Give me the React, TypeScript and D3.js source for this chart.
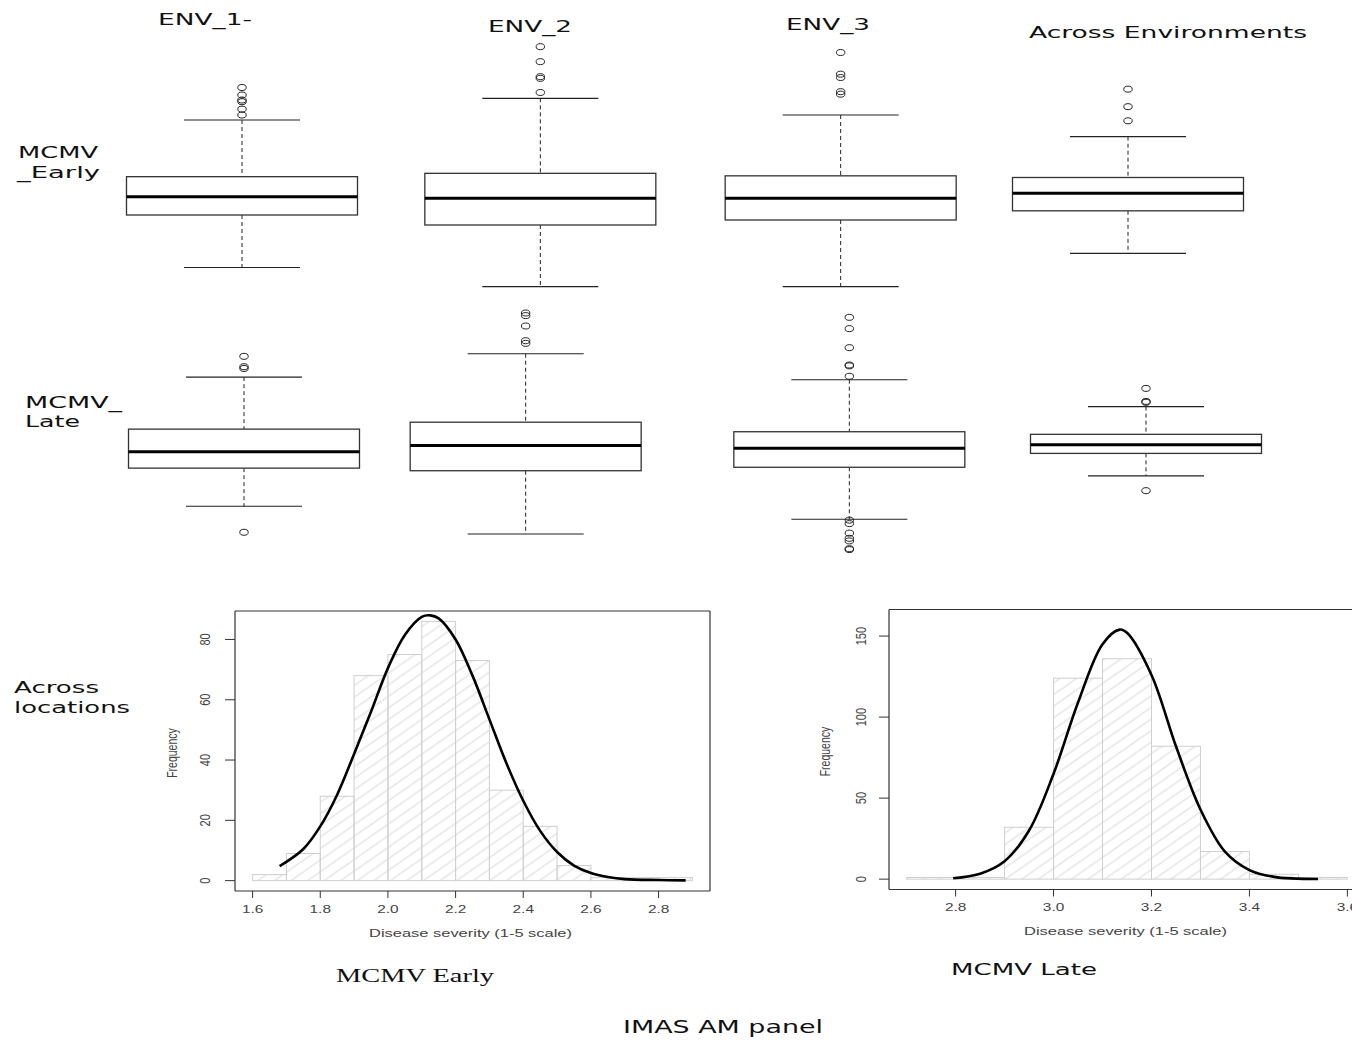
import React from "react";
import * as d3 from "d3";

// ---------------- DATA ----------------
const boxCategories = ["ENV_1", "ENV_2", "ENV_3", "Across Environments"];

// MCMV_Early (disease severity, 1-5 scale)
const earlyLow = [1.27, 1.04, 1.04, 1.44];
const earlyQ1 = [1.9, 1.78, 1.84, 1.95];
const earlyMedian = [2.12, 2.1, 2.1, 2.16];
const earlyQ3 = [2.36, 2.4, 2.37, 2.35];
const earlyHigh = [3.04, 3.3, 3.1, 2.84];
const earlyOutliers = [
  [3.1, 3.17, 3.26, 3.28, 3.34, 3.43],
  [3.37, 3.54, 3.56, 3.74, 3.92],
  [3.35, 3.38, 3.55, 3.59, 3.85],
  [3.03, 3.2, 3.41],
];

// MCMV_Late
const lateLow = [2.62, 2.3, 2.47, 2.97];
const lateQ1 = [3.06, 3.03, 3.07, 3.23];
const lateMedian = [3.25, 3.32, 3.29, 3.33];
const lateQ3 = [3.51, 3.59, 3.48, 3.45];
const lateHigh = [4.11, 4.38, 4.08, 3.77];
const lateOutliers = [
  [2.32, 4.21, 4.23, 4.35],
  [4.5, 4.53, 4.7, 4.82, 4.85],
  [2.12, 2.13, 2.22, 2.25, 2.31, 2.42, 2.46, 4.12, 4.24, 4.25, 4.45, 4.67, 4.8],
  [2.8, 3.82, 3.83, 3.98],
];

// Histograms across locations
const earlyBreaks = [1.6, 1.7, 1.8, 1.9, 2.0, 2.1, 2.2, 2.3, 2.4, 2.5, 2.6, 2.7, 2.8, 2.9];
const earlyCounts = [2, 9, 28, 68, 75, 86, 73, 30, 18, 5, 1, 1, 1];
const earlyCurveX = [1.68, 1.75, 1.8, 1.85, 1.9, 1.95, 2.0, 2.05, 2.1, 2.125, 2.15, 2.2, 2.25, 2.3, 2.35, 2.4, 2.45, 2.5, 2.55, 2.6, 2.65, 2.7, 2.8, 2.88];
const earlyCurveY = [4.8, 10.5, 18, 28.5, 42, 56, 70.5, 81.5, 87.5, 88, 87, 80, 68, 53.5, 39, 26.5, 16.5, 9.5, 5, 2.5, 1.2, 0.5, 0.2, 0.1];
const earlyXTicks = [1.6, 1.8, 2.0, 2.2, 2.4, 2.6, 2.8];
const earlyYTicks = [0, 20, 40, 60, 80];

const lateBreaks = [2.7, 2.8, 2.9, 3.0, 3.1, 3.2, 3.3, 3.4, 3.5, 3.6];
const lateCounts = [1, 1, 32, 124, 136, 82, 17, 3, 1];
const lateCurveX = [2.795, 2.85, 2.9, 2.95, 3.0, 3.05, 3.1, 3.135, 3.15, 3.2, 3.25, 3.3, 3.35, 3.4, 3.45, 3.54];
const lateCurveY = [0.5, 3.3, 11, 30, 65, 109, 145, 154, 152, 126, 82, 43, 17, 5.6, 1.4, 0.1];
const lateXTicks = [2.8, 3.0, 3.2, 3.4, 3.6];
const lateYTicks = [0, 50, 100, 150];

// ---------------- COMPONENTS ----------------
type BoxProps = {
  low: number[]; q1: number[]; med: number[]; q3: number[]; high: number[]; outliers: number[][];
  x: d3.ScalePoint<string>; nudge: number[]; y: d3.ScaleLinear<number, number>;
};

function BoxRow({ low, q1, med, q3, high, outliers, x, nudge, y }: BoxProps) {
  const boxW = 231;
  const capW = 116;
  return (
    <g>
      {boxCategories.map((c, i) => {
        const cx = (x(c) as number) + nudge[i];
        return (
          <g key={c}>
            <line x1={cx} x2={cx} y1={y(high[i])} y2={y(q3[i])} stroke="#222" strokeWidth={1} strokeDasharray="4,3" />
            <line x1={cx} x2={cx} y1={y(q1[i])} y2={y(low[i])} stroke="#222" strokeWidth={1} strokeDasharray="4,3" />
            <line x1={cx - capW / 2} x2={cx + capW / 2} y1={y(high[i])} y2={y(high[i])} stroke="#222" strokeWidth={1.2} />
            <line x1={cx - capW / 2} x2={cx + capW / 2} y1={y(low[i])} y2={y(low[i])} stroke="#222" strokeWidth={1.2} />
            <rect x={cx - boxW / 2} y={y(q3[i])} width={boxW} height={y(q1[i]) - y(q3[i])} fill="#fff" stroke="#333" strokeWidth={1.3} />
            <line x1={cx - boxW / 2} x2={cx + boxW / 2} y1={y(med[i])} y2={y(med[i])} stroke="#000" strokeWidth={3} />
            {outliers[i].map((v, j) => (
              <ellipse key={j} cx={cx} cy={y(v)} rx={4.2} ry={3} fill="none" stroke="#222" strokeWidth={1} />
            ))}
          </g>
        );
      })}
    </g>
  );
}

type HistProps = {
  id: string; breaks: number[]; counts: number[]; cx: number[]; cy: number[];
  xTicks: number[]; yTicks: number[];
  xs: d3.ScaleLinear<number, number>; ys: d3.ScaleLinear<number, number>;
  frame: [number, number, number, number];
  yLabelX: number; freqX: number; titleX: number; titleY: number; tickY: number;
};

const axisFont = "'Liberation Sans', Arial, sans-serif";

function Hist({ id, breaks, counts, cx, cy, xTicks, yTicks, xs, ys, frame, yLabelX, freqX, titleX, titleY, tickY }: HistProps) {
  const [fx0, fy0, fx1, fy1] = frame;
  const line = d3
    .line<number>()
    .x((_, i) => xs(cx[i]))
    .y((d) => ys(d))
    .curve(d3.curveCatmullRom.alpha(0.5));
  const sx = 1.4;
  return (
    <g>
      <defs>
        <pattern id={id} patternUnits="userSpaceOnUse" width={40} height={9.5} patternTransform="rotate(-35)">
          <line x1={0} x2={40} y1={4.75} y2={4.75} stroke="#d4d4d4" strokeWidth={0.9} />
        </pattern>
      </defs>
      {counts.map((c, i) => (
        <rect key={i} x={xs(breaks[i])} y={ys(c)} width={xs(breaks[i + 1]) - xs(breaks[i])} height={ys(0) - ys(c)}
          fill={`url(#${id})`} stroke="#cfcfcf" strokeWidth={1} />
      ))}
      <path d={line(cy) || ""} fill="none" stroke="#000" strokeWidth={2.6} />
      <line x1={fx0} x2={fx1} y1={fy0} y2={fy0} stroke="#333" strokeWidth={1.2} />
      <line x1={fx0} x2={fx1} y1={fy1} y2={fy1} stroke="#333" strokeWidth={1.2} />
      <line x1={fx0} x2={fx0} y1={fy0} y2={fy1} stroke="#333" strokeWidth={1.2} />
      <line x1={fx1} x2={fx1} y1={fy0} y2={fy1} stroke="#333" strokeWidth={1.2} />
      {xTicks.map((t) => (
        <g key={t}>
          <line x1={xs(t)} x2={xs(t)} y1={fy1} y2={fy1 + 7} stroke="#333" strokeWidth={1} />
          <g transform={`translate(${xs(t)},${tickY}) scale(${sx},1)`}>
            <text textAnchor="middle" style={{ fontFamily: axisFont }} fontSize={11} fill="#444">{t.toFixed(1)}</text>
          </g>
        </g>
      ))}
      {yTicks.map((t) => (
        <g key={t}>
          <line x1={fx0 - 10} x2={fx0} y1={ys(t)} y2={ys(t)} stroke="#333" strokeWidth={1} />
          <g transform={`translate(${yLabelX},${ys(t)}) scale(${sx},1) rotate(-90)`}>
            <text textAnchor="middle" dy="0.35em" style={{ fontFamily: axisFont }} fontSize={11} fill="#444">{t}</text>
          </g>
        </g>
      ))}
      <g transform={`translate(${freqX},${(fy0 + fy1) / 2 + 2}) scale(${sx},1) rotate(-90)`}>
        <text textAnchor="middle" dy="0.35em" style={{ fontFamily: axisFont }} fontSize={10.5} fill="#444">Frequency</text>
      </g>
      <text x={titleX} y={titleY} textLength={203} lengthAdjust="spacingAndGlyphs"
        style={{ fontFamily: axisFont }} fontSize={11.5} fill="#444">Disease severity (1-5 scale)</text>
    </g>
  );
}

function Label({ x, y, w, size, family, children, fill = "#111" }: any) {
  return (
    <text x={x} y={y} textLength={w} lengthAdjust="spacingAndGlyphs" style={{ fontFamily: family }} fontSize={size} fill={fill}>
      {children}
    </text>
  );
}

export default function App() {
  const W = 1352;
  const H = 1040;
  const sans = "'DejaVu Sans', Verdana, sans-serif";
  const serif = "'Liberation Serif', 'DejaVu Serif', serif";

  // box plot scales
  const x1 = d3.scalePoint<string>().domain(boxCategories).range([242, 1128]);
  const x2 = d3.scalePoint<string>().domain(boxCategories).range([244, 1146]);
  const nudge1 = [0, 3, 8, 0];
  const nudge2 = [0, -19, 4, 0];
  const yEarly = d3.scaleLinear().domain([1, 4]).range([290, 40]);
  const yLate = d3.scaleLinear().domain([2, 5]).range([560, 300]);

  // histogram scales
  const xsE = d3.scaleLinear().domain([1.548, 2.952]).range([235, 710]);
  const ysE = d3.scaleLinear().domain([-3.44, 89.44]).range([891, 611]);
  const xsL = d3.scaleLinear().domain([2.664, 3.636]).range([889, 1365]);
  const ysL = d3.scaleLinear().domain([-6.4, 166.4]).range([889.5, 609.5]);

  return (
    <svg width={W} height={H} style={{ position: "absolute", left: 0, top: 0, background: "#fff" }}>
      <rect x={0} y={0} width={W} height={H} fill="#fff" />
      {/* column titles */}
      <Label x={158} y={25} w={94} size={16.5} family={sans}>ENV_1-</Label>
      <Label x={488} y={32} w={84} size={16.5} family={sans}>ENV_2</Label>
      <Label x={786} y={29.5} w={84} size={16.5} family={sans}>ENV_3</Label>
      <Label x={1029} y={37.5} w={278} size={15.5} family={sans}>Across Environments</Label>

      {/* row titles */}
      <Label x={18} y={158} w={80} size={16.5} family={sans}>MCMV</Label>
      <Label x={17} y={178} w={83} size={16.5} family={sans}>_Early</Label>
      <Label x={25} y={407.5} w={97} size={16.5} family={sans}>MCMV_</Label>
      <Label x={25} y={427} w={55} size={16.5} family={sans}>Late</Label>
      <Label x={14} y={693} w={85} size={16.5} family={sans}>Across</Label>
      <Label x={14} y={713} w={116} size={16.5} family={sans}>locations</Label>

      <BoxRow low={earlyLow} q1={earlyQ1} med={earlyMedian} q3={earlyQ3} high={earlyHigh} outliers={earlyOutliers}
        x={x1} nudge={nudge1} y={yEarly} />
      <BoxRow low={lateLow} q1={lateQ1} med={lateMedian} q3={lateQ3} high={lateHigh} outliers={lateOutliers}
        x={x2} nudge={nudge2} y={yLate} />

      <Hist id="hatchE" breaks={earlyBreaks} counts={earlyCounts} cx={earlyCurveX} cy={earlyCurveY}
        xTicks={earlyXTicks} yTicks={earlyYTicks} xs={xsE} ys={ysE} frame={[235, 611, 710, 891]}
        yLabelX={205} freqX={172} titleX={369} titleY={937} tickY={913} />
      <Hist id="hatchL" breaks={lateBreaks} counts={lateCounts} cx={lateCurveX} cy={lateCurveY}
        xTicks={lateXTicks} yTicks={lateYTicks} xs={xsL} ys={ysL} frame={[889, 609.5, 1365, 889.5]}
        yLabelX={861} freqX={825} titleX={1024} titleY={935} tickY={911} />

      <Label x={336} y={982} w={158} size={18} family={serif}>MCMV Early</Label>
      <Label x={951} y={975} w={146} size={16.5} family={sans}>MCMV Late</Label>
      <Label x={623} y={1033} w={200} size={17} family={sans}>IMAS AM panel</Label>
    </svg>
  );
}
